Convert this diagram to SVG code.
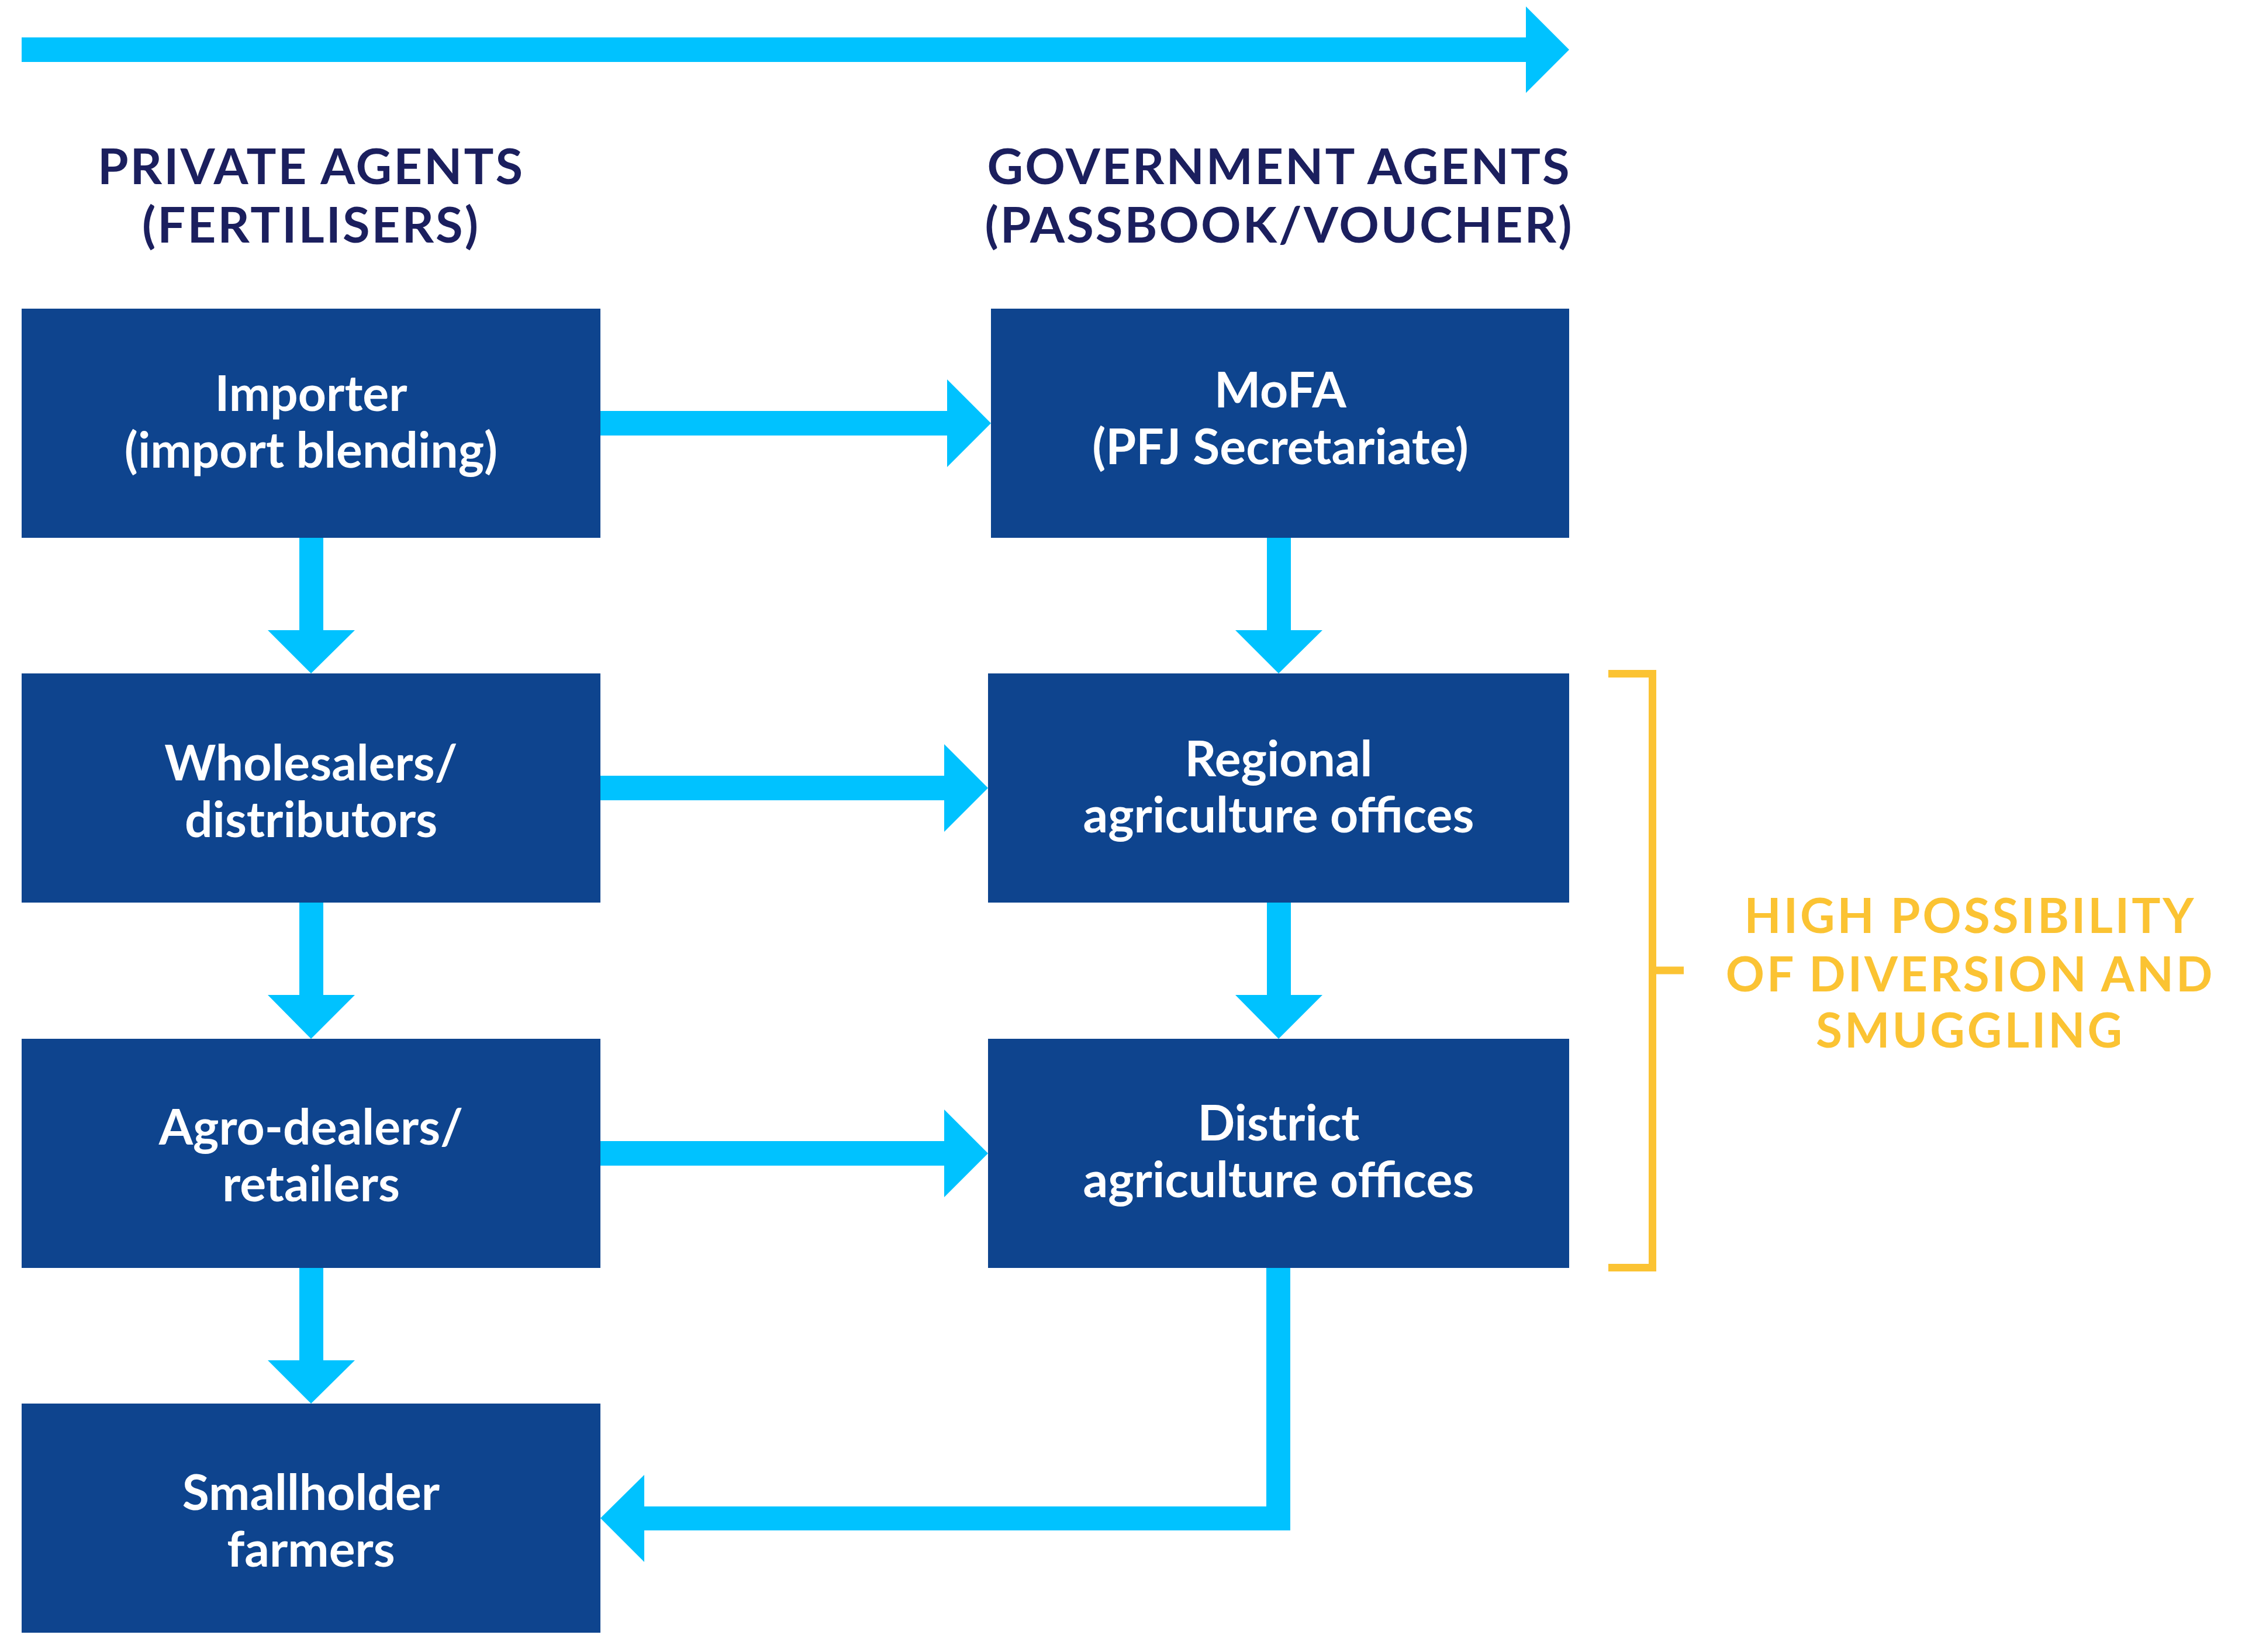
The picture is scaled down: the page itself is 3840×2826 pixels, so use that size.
<svg xmlns="http://www.w3.org/2000/svg" width="3840" height="2826" viewBox="0 0 3840 2826">
<style>
.box{fill:#0E448E}
.arrow{fill:#00C2FF}
.lbl{font-family:Lato,"Liberation Sans",sans-serif;font-weight:700;font-size:84px;fill:#FFFFFF;text-anchor:middle}
.head{font-family:Lato,"Liberation Sans",sans-serif;font-weight:700;font-size:85px;fill:#1B1F5E;text-anchor:middle;letter-spacing:3px}
.warn{font-family:Lato,"Liberation Sans",sans-serif;font-weight:700;font-size:82px;fill:#FBC333;text-anchor:middle;letter-spacing:4px}
.brk{fill:none;stroke:#FBC333;stroke-width:13}
</style>
<rect width="3840" height="2826" fill="#FFFFFF"/>
<g id="connectors">
<polygon class="arrow" points="37,64 2610,64 2610,11 2684,85 2610,159 2610,106 37,106"/>
<polygon class="arrow" points="1027,703 1620,703 1620,649 1695,724 1620,799 1620,745 1027,745"/>
<polygon class="arrow" points="1027,1327 1615,1327 1615,1273 1690,1348 1615,1423 1615,1369 1027,1369"/>
<polygon class="arrow" points="1027,1952 1615,1952 1615,1898 1690,1973 1615,2048 1615,1994 1027,1994"/>
<polygon class="arrow" points="512,920 553,920 553,1078 607,1078 532,1152 458,1078 512,1078"/>
<polygon class="arrow" points="512,1544 553,1544 553,1702 607,1702 532,1777 458,1702 512,1702"/>
<polygon class="arrow" points="512,2169 553,2169 553,2327 607,2327 532,2401 458,2327 512,2327"/>
<polygon class="arrow" points="2167,920 2208,920 2208,1078 2262,1078 2187,1152 2113,1078 2167,1078"/>
<polygon class="arrow" points="2167,1544 2208,1544 2208,1702 2262,1702 2187,1777 2113,1702 2167,1702"/>
<polygon class="arrow" points="2166,2169 2207,2169 2207,2618 1102,2618 1102,2672 1027,2597 1102,2523 1102,2577 2166,2577"/>
</g>
<g id="heading-private">
<text class="head" x="532" y="315">PRIVATE AGENTS</text>
<text class="head" x="532" y="415">(FERTILISERS)</text>
</g>
<g id="heading-government">
<text class="head" x="2188" y="315">GOVERNMENT AGENTS</text>
<text class="head" x="2188" y="415">(PASSBOOK/VOUCHER)</text>
</g>
<g id="node-importer">
<rect class="box" x="37" y="528" width="990" height="392"/>
<text class="lbl" x="532" y="703">Importer</text>
<text class="lbl" x="532" y="800">(import blending)</text>
</g>
<g id="node-wholesalers">
<rect class="box" x="37" y="1152" width="990" height="392"/>
<text class="lbl" x="532" y="1335">Wholesalers/</text>
<text class="lbl" x="532" y="1432">distributors</text>
</g>
<g id="node-agrodealers">
<rect class="box" x="37" y="1777" width="990" height="392"/>
<text class="lbl" x="532" y="1958">Agro-dealers/</text>
<text class="lbl" x="532" y="2055">retailers</text>
</g>
<g id="node-smallholder">
<rect class="box" x="37" y="2401" width="990" height="392"/>
<text class="lbl" x="532" y="2583">Smallholder</text>
<text class="lbl" x="532" y="2680">farmers</text>
</g>
<g id="node-mofa">
<rect class="box" x="1695" y="528" width="989" height="392"/>
<text class="lbl" x="2190" y="697">MoFA</text>
<text class="lbl" x="2190" y="794">(PFJ Secretariate)</text>
</g>
<g id="node-regional">
<rect class="box" x="1690" y="1152" width="994" height="392"/>
<text class="lbl" x="2187" y="1328">Regional</text>
<text class="lbl" x="2187" y="1424">agriculture offices</text>
</g>
<g id="node-district">
<rect class="box" x="1690" y="1777" width="994" height="392"/>
<text class="lbl" x="2187" y="1951">District</text>
<text class="lbl" x="2187" y="2048">agriculture offices</text>
</g>
<g id="bracket">
<path class="brk" d="M2751,1152.5 H2826.5 V2168.5 H2751 M2826.5,1660 H2880"/>
<text class="warn" x="3370" y="1596">HIGH POSSIBILITY</text>
<text class="warn" x="3370" y="1696">OF DIVERSION AND</text>
<text class="warn" x="3370" y="1792">SMUGGLING</text>
</g>
</svg>
